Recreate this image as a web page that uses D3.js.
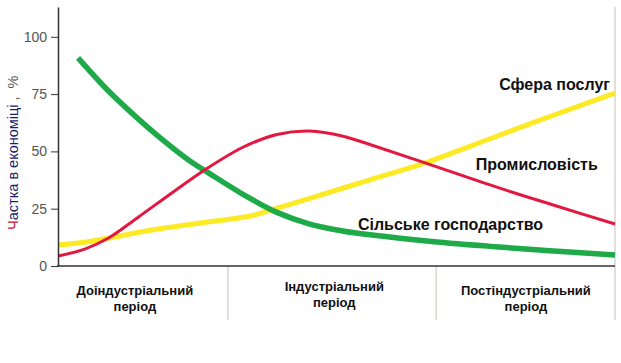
<!DOCTYPE html>
<html>
<head>
<meta charset="utf-8">
<script src="https://cdn.jsdelivr.net/npm/d3@7"></script>
<style>
  body { margin: 0; background: #fff; }
  svg { display: block; font-family: "Liberation Sans", Arial, sans-serif; }
</style>
</head>
<body>
<script>
// progress along the timeline (0..100) and share of economy, %
var agriX = [3.6, 8.8, 13.8, 18.3, 23.3, 27.3, 33.2, 39.3, 45.2, 51.1, 56.0, 67.1, 78.5, 88.3, 100];
var agriY = [90.8, 77, 65.5, 56, 46.5, 40.2, 31.3, 23.4, 18.3, 15.3, 13.6, 10.7, 8.4, 6.7, 4.8];

var indX = [0, 4.8, 9.0, 14.4, 20.5, 26.4, 33.2, 39.3, 45.2, 51.2, 56.0, 65.9, 78.5, 89.2, 100];
var indY = [4.4, 7.4, 12.1, 21.3, 32, 42, 51.8, 57.4, 58.9, 56.6, 53, 45, 34.6, 26.4, 18.3];

var servX = [0, 5.4, 11.5, 17.4, 28.2, 34.5, 39.3, 45.2, 56.0, 65.9, 78.5, 89.2, 100];
var servY = [9.2, 10.6, 13.3, 15.9, 19.6, 21.8, 25.2, 29.5, 37.6, 45, 56.4, 66, 75.4];

var yTicks = [0, 25, 50, 75, 100];

var periods = [["Доіндустріальний", "період"], ["Індустріальний", "період"], ["Постіндустріальний", "період"]];
var periodBounds = [30.5, 67.9, 100];
var periodCenters = [13.8, 49.6, 84];

var seriesNames = ["Сфера послуг", "Промисловість", "Сільське господарство"];
var labelX = [99.1, 96.9, 87.1];
var labelY = [79.4, 44.5, 18.3];

var W = 621, H = 363;
var svg = d3.select("body").append("svg").attr("width", W).attr("height", H);

var x = d3.scaleLinear().domain([0, 100]).range([58, 615]);
var y = d3.scaleLinear().domain([0, 113]).range([266, 7]);

// period dividers and right border
svg.selectAll("line.div").data(periodBounds).enter().append("line")
  .attr("class", "div")
  .attr("x1", function (d) { return x(d); })
  .attr("x2", function (d) { return x(d); })
  .attr("y1", function (d, i) { return i == periodBounds.length - 1 ? y(113) : y(0); })
  .attr("y2", 320)
  .attr("stroke", "#cfcac4")
  .attr("stroke-width", 1.2);

// period labels
periods.forEach(function (p, i) {
  var t = svg.append("text")
    .attr("x", x(periodCenters[i]))
    .attr("y", i == 1 ? 291 : 295)
    .attr("text-anchor", "middle")
    .attr("font-size", 13)
    .attr("font-weight", "bold")
    .attr("fill", "#111");
  t.append("tspan").attr("x", x(periodCenters[i])).text(p[0]);
  t.append("tspan").attr("x", x(periodCenters[i])).attr("dy", 16).text(p[1]);
});

var line = d3.line().curve(d3.curveCatmullRom.alpha(0.5))
  .x(function (d) { return x(d[0]); })
  .y(function (d) { return y(d[1]); });

var series = [
  { xs: servX, ys: servY, color: "#fcea24", w: 5 },
  { xs: agriX, ys: agriY, color: "#1eaa48", w: 5.5 },
  { xs: indX, ys: indY, color: "#e3173f", w: 3 }
];
series.forEach(function (s) {
  svg.append("path")
    .attr("d", line(d3.zip(s.xs, s.ys)))
    .attr("fill", "none")
    .attr("stroke", s.color)
    .attr("stroke-width", s.w);
});

// series labels
svg.selectAll("text.lab").data(seriesNames).enter().append("text")
  .attr("class", "lab")
  .attr("x", function (d, i) { return x(labelX[i]); })
  .attr("y", function (d, i) { return y(labelY[i]); })
  .attr("dy", "0.35em")
  .attr("text-anchor", "end")
  .attr("font-size", 16)
  .attr("font-weight", "bold")
  .attr("fill", "#111")
  .text(function (d) { return d; });

// axes
var yAxis = d3.axisLeft(y).tickValues(yTicks).tickSize(7).tickSizeOuter(0).tickPadding(4);
var gy = svg.append("g").attr("transform", "translate(58,0)").call(yAxis);
gy.select(".domain").attr("stroke", "#333").attr("stroke-width", 1.5);
gy.selectAll(".tick line").attr("stroke", "#333");
gy.selectAll(".tick text").attr("font-size", 14).attr("fill", "#555").attr("font-family", "Liberation Sans, Arial, sans-serif");

svg.append("line")
  .attr("x1", x(0) - 1).attr("x2", x(100))
  .attr("y1", y(0)).attr("y2", y(0))
  .attr("stroke", "#333").attr("stroke-width", 1.5);

// y axis title
var yt = svg.append("text")
  .attr("transform", "translate(18,230) rotate(-90)")
  .attr("font-size", 14.5);
yt.append("tspan").attr("fill", "#c8102e").text("Ч");
yt.append("tspan").attr("fill", "#1b1b6b").text("астка в економіці");
yt.append("tspan").attr("fill", "#555").attr("dx", 4).text(",");
yt.append("tspan").attr("fill", "#555").attr("dx", 8).text("%");
</script>
</body>
</html>
